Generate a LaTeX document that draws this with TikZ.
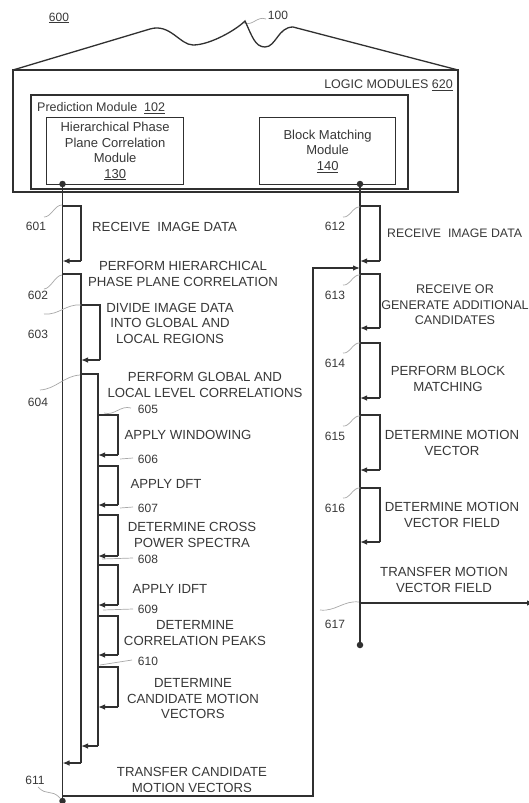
\documentclass[tikz,border=0pt]{standalone}
\usepackage{fontspec}
\setmainfont{Liberation Sans}
\usetikzlibrary{arrows.meta,calc}
\definecolor{ink}{HTML}{303030}
\definecolor{txt}{HTML}{383838}
\definecolor{leadc}{HTML}{A8A8A8}
\newcommand\stepbr[5]{%
  \coordinate (#1a) at (#2,#4);
  \coordinate (#1b) at (#3,#4);
  \coordinate (#1c) at (#3,#5);
  \coordinate (#1d) at (#2,#5);
  \draw[lin] (#1a) -- (#1b) -- (#1c);
  \draw[arr] (#1c) -- (#1d);}
\newcommand\leadwave[3]{%
  \coordinate (#1s) at (#2);
  \coordinate (#1e) at (#3);
  \draw[lead] (#1s) .. controls ($(#1s)!0.4!(#1e)+(0,5)$) and ($(#1s)!0.6!(#1e)+(0,-5)$) .. (#1e);}
\newcommand\leadstr[3]{%
  \coordinate (#1s) at (#2);
  \coordinate (#1e) at (#3);
  \draw[lead] (#1s) -- (#1e);}
\tikzset{
  lin/.style={draw=ink,line width=1.3pt},
  arr/.style={draw=ink,line width=1.3pt,-{Latex[length=7pt,width=5.5pt]}},
  stxt/.style={text=txt,font=\fontsize{13.2}{15.5}\selectfont,align=center,inner sep=0pt},
  num/.style={text=txt,font=\fontsize{12}{14}\selectfont,inner sep=0pt},
  lead/.style={draw=leadc,line width=0.7pt},
  modbox/.style={draw=ink,line width=1.3pt,text=txt,font=\fontsize{13}{15.5}\selectfont,align=center,inner sep=0pt,anchor=north west},
  dot/.style={circle,fill=ink,inner sep=0pt,minimum size=6.5pt}
}
\begin{document}
\begin{tikzpicture}[x=1pt,y=-1pt]
\useasboundingbox (0,0) rectangle (528,803);
\fill[white] (0,0) rectangle (528,803);

% header labels
\node[num] (n600) at (59,18) {\underline{600}};
\node[num] (n100) at (278,15) {100};
\leadwave{w100}{244,23}{266,19}

% housing
\draw[lin] (13,70) -- (150,29) .. controls (170,23) and (180,45) .. (193,45)
  .. controls (210,45) and (236,30) .. (245,21)
  .. controls (252,36) and (255,47) .. (265,47)
  .. controls (276,47) and (278,27) .. (293,27) -- (458,70);
\draw[lin] (13,70) rectangle (458,192);
\node[num,font=\fontsize{12.5}{14}\selectfont,anchor=east] (lm) at (453,85) {LOGIC MODULES \underline{620}};

% prediction module
\draw[lin] (31,95) rectangle (408,189);
\node[num,font=\fontsize{12.5}{14}\selectfont,anchor=west] (pm) at (37,108) {Prediction Module\ \ \underline{102}};
\node[modbox,minimum width=137pt,minimum height=67pt] (hppc) at (46,117) {Hierarchical Phase\\Plane Correlation\\Module\\\underline{130}};
\node[modbox,minimum width=136pt,minimum height=67pt] (bmm) at (259,117) {Block Matching\\Module\\\underline{140}};

% main lines
\node[dot] (dL) at (62.5,184) {};
\node[dot] (dR) at (360,184) {};
\node[dot] (dB) at (62.5,801) {};
\node[dot] (dR2) at (360,645) {};
\draw[lin] (dL.center) -- (dB.center);
\draw[lin] (dR.center) -- (dR2.center);

% left column steps
\stepbr{s601}{62.5}{81}{206}{261}
\stepbr{s602}{62.5}{81}{274}{763}
\stepbr{s603}{81}{100}{305}{360}
\stepbr{s604}{81}{98}{374}{746}
\stepbr{s605}{98}{118}{415}{455}
\stepbr{s606}{98}{118}{466}{505}
\stepbr{s607}{98}{118}{515}{556}
\stepbr{s608}{98}{118}{565}{605}
\stepbr{s609}{98}{118}{616}{655}
\stepbr{s610}{98}{118}{667}{707}

\node[stxt,anchor=west] (t601) at (92,227) {RECEIVE\ \ IMAGE DATA};
\node[stxt] (t602) at (183,274) {PERFORM HIERARCHICAL\\PHASE PLANE CORRELATION};
\node[stxt] (t603) at (170,323) {DIVIDE IMAGE DATA\\INTO GLOBAL AND\\LOCAL REGIONS};
\node[stxt] (t604) at (205,385) {PERFORM GLOBAL AND\\LOCAL LEVEL CORRELATIONS};
\node[stxt] (t605) at (188,435) {APPLY WINDOWING};
\node[stxt] (t606) at (166,484) {APPLY DFT};
\node[stxt] (t607) at (192,535) {DETERMINE CROSS\\POWER SPECTRA};
\node[stxt] (t608) at (170,589) {APPLY IDFT};
\node[stxt] (t609) at (195,633) {DETERMINE\\CORRELATION PEAKS};
\node[stxt] (t610) at (193,699) {DETERMINE\\CANDIDATE MOTION\\VECTORS};
\node[stxt] (t611) at (192,780) {TRANSFER CANDIDATE\\MOTION VECTORS};

% left labels
\node[num] (l601) at (36,226) {601};
\node[num] (l602) at (38,295) {602};
\node[num] (l603) at (38,334) {603};
\node[num] (l604) at (38,402) {604};
\node[num] (l611) at (35,780) {611};
\node[num] (l605) at (148,409) {605};
\node[num] (l606) at (148,459) {606};
\node[num] (l607) at (148,508) {607};
\node[num] (l608) at (148,559) {608};
\node[num] (l609) at (148,609) {609};
\node[num] (l610) at (148,661) {610};

\leadwave{w601}{44,217}{62,205}
\leadwave{w602}{44,289}{62,275}
\leadwave{w603}{44,314}{81,305}
\leadwave{w604}{40,390}{80,375}
\leadwave{w611}{38,787}{60,798}
\leadwave{w605}{104,413}{131,408}
\leadstr{w606}{120,459}{133,458}
\leadstr{w607}{120,508}{133,507}
\leadstr{w608}{102,559}{133,558}
\leadstr{w609}{103,610}{133,609}
\leadstr{w610}{100,665}{132,660}

% feedback loop
\coordinate (fb1) at (62.5,796);
\coordinate (fb2) at (313,796);
\coordinate (fb3) at (313,268);
\coordinate (fb4) at (360,268);
\draw[arr] (fb1) -- (fb2) -- (fb3) -- (fb4);

% right column steps
\stepbr{s612}{360}{380}{206}{261}
\stepbr{s613}{360}{380}{274}{328}
\stepbr{s614}{360}{380}{343}{398}
\stepbr{s615}{360}{380}{415}{470}
\stepbr{s616}{360}{380}{488}{542}
\coordinate (tm1) at (360,603);
\coordinate (tm2) at (534,603);
\draw[arr] (tm1) -- (tm2);

\node[stxt,font=\fontsize{12.3}{15.5}\selectfont,anchor=west] (t612) at (387,233) {RECEIVE\ \ IMAGE DATA};
\node[stxt,font=\fontsize{12.6}{15.5}\selectfont] (t613) at (455,305) {RECEIVE OR\\GENERATE ADDITIONAL\\CANDIDATES};
\node[stxt] (t614) at (448,379) {PERFORM BLOCK\\MATCHING};
\node[stxt] (t615) at (452,443) {DETERMINE MOTION\\VECTOR};
\node[stxt] (t616) at (452,515) {DETERMINE MOTION\\VECTOR FIELD};
\node[stxt] (t617) at (444,580) {TRANSFER MOTION\\VECTOR FIELD};

\node[num] (l612) at (335,226) {612};
\node[num] (l613) at (335,295) {613};
\node[num] (l614) at (335,363) {614};
\node[num] (l615) at (335,436) {615};
\node[num] (l616) at (335,508) {616};
\node[num] (l617) at (335,624) {617};
\leadwave{w612}{343,217}{360,207}
\leadwave{w613}{343,285}{360,275}
\leadwave{w614}{343,353}{360,343}
\leadwave{w615}{343,426}{360,416}
\leadwave{w616}{343,498}{360,488}
\leadwave{w617}{320,610}{359,602}
\end{tikzpicture}
\end{document}
